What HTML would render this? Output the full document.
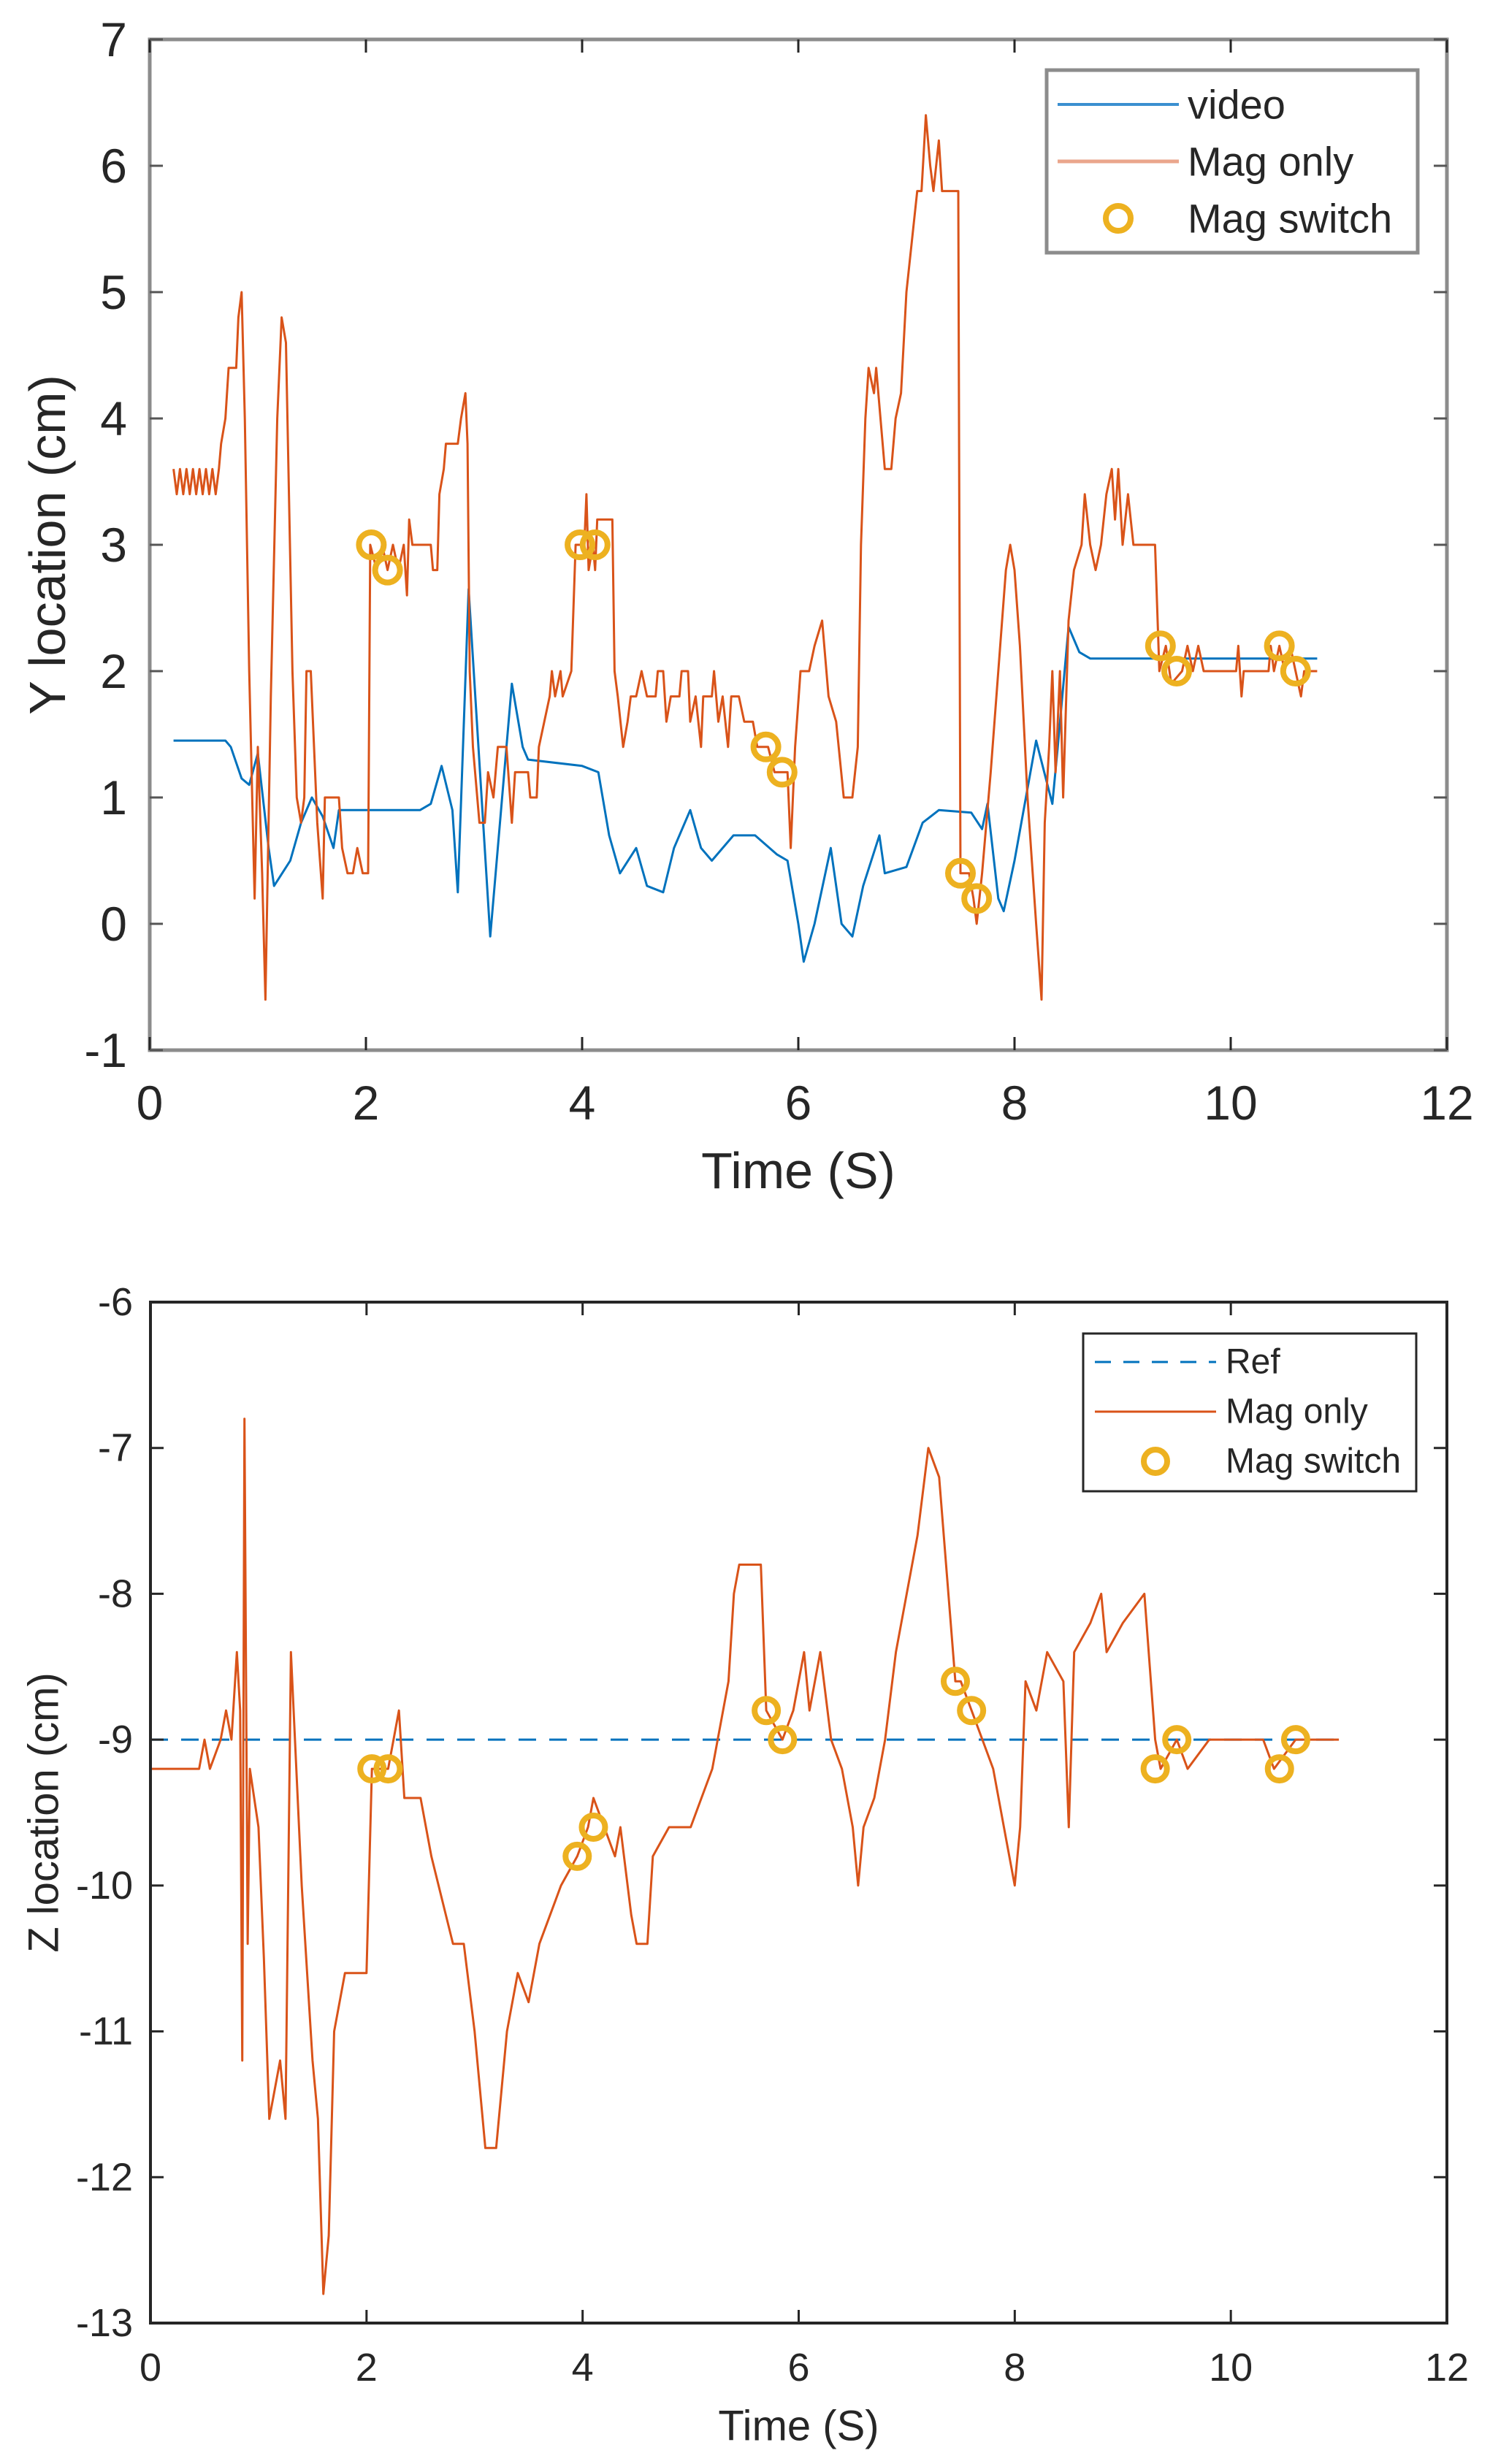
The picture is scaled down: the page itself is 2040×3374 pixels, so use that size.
<!DOCTYPE html>
<html><head><meta charset="utf-8"><style>
html,body{margin:0;padding:0;background:#fff}
svg{display:block}
text{font-family:"Liberation Sans",Arial,sans-serif;fill:#262626}
</style></head><body>
<svg id="fig" width="2040" height="3374" viewBox="0 0 2040 3374" xmlns="http://www.w3.org/2000/svg">
<g id="top"></g>
<g id="bot"></g>
</svg>
<script>
// ---- top chart data ----
const topXTicks=[0,2,4,6,8,10,12];
const topYTicks=[-1,0,1,2,3,4,5,6,7];
const topMagT=[0.22,0.25,0.28,0.31,0.34,0.37,0.40,0.43,0.46,0.49,0.52,0.55,0.58,0.61,0.64,0.66,0.70,0.73,0.80,0.82,0.85,0.88,0.92,0.97,1.0,1.04,1.07,1.12,1.18,1.22,1.26,1.32,1.36,1.40,1.43,1.45,1.49,1.55,1.6,1.62,1.75,1.78,1.83,1.88,1.92,1.97,2.02,2.04,2.1,2.15,2.2,2.25,2.3,2.35,2.38,2.4,2.43,2.6,2.62,2.66,2.68,2.72,2.74,2.85,2.88,2.92,2.94,2.96,2.99,3.05,3.1,3.13,3.18,3.22,3.3,3.35,3.38,3.5,3.52,3.58,3.6,3.65,3.7,3.72,3.75,3.8,3.82,3.9,3.94,4.02,4.04,4.06,4.1,4.12,4.14,4.28,4.3,4.33,4.38,4.42,4.45,4.5,4.55,4.6,4.68,4.7,4.75,4.78,4.82,4.9,4.92,4.98,5.0,5.05,5.1,5.12,5.2,5.22,5.26,5.3,5.35,5.38,5.45,5.5,5.58,5.62,5.72,5.78,5.9,5.93,5.97,6.02,6.1,6.15,6.22,6.28,6.35,6.42,6.5,6.55,6.58,6.62,6.65,6.7,6.72,6.76,6.8,6.86,6.9,6.95,7.0,7.05,7.1,7.14,7.18,7.22,7.25,7.3,7.33,7.48,7.5,7.58,7.62,7.65,7.7,7.78,7.85,7.92,7.96,8.0,8.05,8.12,8.2,8.25,8.28,8.32,8.35,8.38,8.42,8.45,8.5,8.55,8.62,8.65,8.7,8.75,8.8,8.85,8.9,8.93,8.96,9.0,9.05,9.1,9.3,9.34,9.4,9.45,9.55,9.6,9.65,9.7,9.75,10.05,10.07,10.1,10.12,10.35,10.37,10.4,10.45,10.5,10.55,10.6,10.65,10.68,10.8];
const topMagV=[3.6,3.4,3.6,3.4,3.6,3.4,3.6,3.4,3.6,3.4,3.6,3.4,3.6,3.4,3.6,3.8,4.0,4.4,4.4,4.8,5.0,4.0,2.0,0.2,1.4,0.4,-0.6,1.8,4.0,4.8,4.6,2.0,1.0,0.8,1.0,2.0,2.0,0.8,0.2,1.0,1.0,0.6,0.4,0.4,0.6,0.4,0.4,3.0,2.8,3.0,2.8,3.0,2.8,3.0,2.6,3.2,3.0,3.0,2.8,2.8,3.4,3.6,3.8,3.8,4.0,4.2,3.8,2.0,1.4,0.8,0.8,1.2,1.0,1.4,1.4,0.8,1.2,1.2,1.0,1.0,1.4,1.6,1.8,2.0,1.8,2.0,1.8,2.0,3.0,3.0,3.4,2.8,3.0,2.8,3.2,3.2,2.0,1.8,1.4,1.6,1.8,1.8,2.0,1.8,1.8,2.0,2.0,1.6,1.8,1.8,2.0,2.0,1.6,1.8,1.4,1.8,1.8,2.0,1.6,1.8,1.4,1.8,1.8,1.6,1.6,1.4,1.4,1.2,1.2,0.6,1.4,2.0,2.0,2.2,2.4,1.8,1.6,1.0,1.0,1.4,3.0,4.0,4.4,4.2,4.4,4.0,3.6,3.6,4.0,4.2,5.0,5.4,5.8,5.8,6.4,6.0,5.8,6.2,5.8,5.8,0.4,0.4,0.2,0.0,0.4,1.2,2.0,2.8,3.0,2.8,2.2,1.0,0.0,-0.6,0.8,1.4,2.0,1.2,2.0,1.0,2.4,2.8,3.0,3.4,3.0,2.8,3.0,3.4,3.6,3.2,3.6,3.0,3.4,3.0,3.0,2.0,2.2,1.9,2.0,2.2,2.0,2.2,2.0,2.0,2.2,1.8,2.0,2.0,2.2,2.0,2.2,2.0,2.2,2.0,1.8,2.0,2.0];
const topVidT=[0.22,0.7,0.75,0.85,0.92,1.0,1.1,1.15,1.3,1.4,1.5,1.6,1.7,1.75,2.5,2.6,2.7,2.8,2.85,2.95,3.15,3.35,3.45,3.5,4.0,4.15,4.25,4.35,4.5,4.6,4.75,4.85,5.0,5.1,5.2,5.4,5.6,5.8,5.9,6.0,6.05,6.15,6.3,6.4,6.5,6.6,6.75,6.8,7.0,7.15,7.3,7.6,7.7,7.75,7.85,7.9,8.0,8.2,8.35,8.4,8.5,8.6,8.7,9.0,10.8];
const topVidV=[1.45,1.45,1.4,1.15,1.1,1.35,0.6,0.3,0.5,0.8,1.0,0.85,0.6,0.9,0.9,0.95,1.25,0.9,0.25,2.65,-0.1,1.9,1.4,1.3,1.25,1.2,0.7,0.4,0.6,0.3,0.25,0.6,0.9,0.6,0.5,0.7,0.7,0.55,0.5,0.0,-0.3,0.0,0.6,0.0,-0.1,0.3,0.7,0.4,0.45,0.8,0.9,0.88,0.75,0.95,0.2,0.1,0.5,1.45,0.95,1.4,2.35,2.15,2.1,2.1,2.1];
const topSwT=[2.05,2.2,3.98,4.12,5.7,5.85,7.5,7.65,9.35,9.5,10.45,10.6];
const topSwV=[3.0,2.8,3.0,3.0,1.4,1.2,0.4,0.2,2.2,2.0,2.2,2.0];
// ---- bottom chart data ----
const botXTicks=[0,2,4,6,8,10,12];
const botYTicks=[-13,-12,-11,-10,-9,-8,-7,-6];
const refT=[0,11];
const refV=[-9,-9];
const botMagT=[0,0.45,0.5,0.55,0.65,0.7,0.75,0.8,0.83,0.85,0.87,0.9,0.92,1.0,1.05,1.1,1.2,1.25,1.3,1.4,1.5,1.55,1.6,1.65,1.7,1.8,2.0,2.05,2.2,2.3,2.35,2.5,2.6,2.8,2.9,3.0,3.1,3.2,3.3,3.4,3.5,3.6,3.7,3.8,3.95,4.05,4.1,4.2,4.3,4.35,4.45,4.5,4.6,4.65,4.8,5.0,5.1,5.2,5.25,5.35,5.4,5.45,5.65,5.7,5.85,5.95,6.0,6.05,6.1,6.2,6.3,6.4,6.5,6.55,6.6,6.7,6.8,6.9,7.0,7.1,7.2,7.3,7.45,7.5,7.6,7.7,7.8,7.9,8.0,8.05,8.1,8.2,8.3,8.45,8.5,8.55,8.7,8.8,8.85,9.0,9.2,9.3,9.35,9.5,9.6,9.8,10.3,10.4,10.6,11.0];
const botMagV=[-9.2,-9.2,-9.0,-9.2,-9.0,-8.8,-9.0,-8.4,-8.8,-11.2,-6.8,-10.4,-9.2,-9.6,-10.5,-11.6,-11.2,-11.6,-8.4,-10.0,-11.2,-11.6,-12.8,-12.4,-11.0,-10.6,-10.6,-9.2,-9.2,-8.8,-9.4,-9.4,-9.8,-10.4,-10.4,-11.0,-11.8,-11.8,-11.0,-10.6,-10.8,-10.4,-10.2,-10.0,-9.8,-9.6,-9.4,-9.6,-9.8,-9.6,-10.2,-10.4,-10.4,-9.8,-9.6,-9.6,-9.4,-9.2,-9.0,-8.6,-8.0,-7.8,-7.8,-8.8,-9.0,-8.8,-8.6,-8.4,-8.8,-8.4,-9.0,-9.2,-9.6,-10.0,-9.6,-9.4,-9.0,-8.4,-8.0,-7.6,-7.0,-7.2,-8.6,-8.6,-8.8,-9.0,-9.2,-9.6,-10.0,-9.6,-8.6,-8.8,-8.4,-8.6,-9.6,-8.4,-8.2,-8.0,-8.4,-8.2,-8.0,-9.0,-9.2,-9.0,-9.2,-9.0,-9.0,-9.2,-9.0,-9.0];
const botSwT=[2.05,2.2,3.95,4.1,5.7,5.85,7.45,7.6,9.3,9.5,10.45,10.6];
const botSwV=[-9.2,-9.2,-9.8,-9.6,-8.8,-9.0,-8.6,-8.8,-9.2,-9.0,-9.2,-9.0];

const NS="http://www.w3.org/2000/svg";
function mk(parent,tag,attrs,txt){const e=document.createElementNS(NS,tag);for(const k in attrs)e.setAttribute(k,attrs[k]);if(txt!==undefined)e.textContent=txt;parent.appendChild(e);return e;}
function pathD(T,V,sx,sy){return T.map((t,i)=>(i?'L':'M')+sx(t).toFixed(1)+' '+sy(V[i]).toFixed(1)).join(' ');}

function drawChart(g,cfg){
  const sx=t=>cfg.L+(t-cfg.x0)/(cfg.x1-cfg.x0)*(cfg.R-cfg.L);
  const sy=v=>cfg.B-(v-cfg.y0)/(cfg.y1-cfg.y0)*(cfg.B-cfg.T);
  cfg.series.forEach(s=>{
    const p=mk(g,'path',{d:pathD(s.T,s.V,sx,sy),fill:'none',stroke:s.color,'stroke-width':s.w,'stroke-linejoin':'round'});
    if(s.dash)p.setAttribute('stroke-dasharray',s.dash);
    
    
  });
  cfg.sw.T.forEach((t,i)=>{
    const c=mk(g,'circle',{cx:sx(t),cy:sy(cfg.sw.V[i]),r:cfg.mr,fill:'none',stroke:'#edb120','stroke-width':cfg.mw});
    
    
  });
  const box=mk(g,'rect',{x:cfg.L,y:cfg.T,width:cfg.R-cfg.L,height:cfg.B-cfg.T,fill:'none',stroke:cfg.axc,'stroke-width':cfg.aw});
  
  
  cfg.xt.forEach(t=>{
    mk(g,'line',{x1:sx(t),x2:sx(t),y1:cfg.B,y2:cfg.B-18,stroke:'#262626','stroke-width':3});
    mk(g,'line',{x1:sx(t),x2:sx(t),y1:cfg.T,y2:cfg.T+18,stroke:'#262626','stroke-width':3});
    const tx=mk(g,'text',{x:sx(t),y:cfg.xly,'text-anchor':'middle','font-size':cfg.fs,'dominant-baseline':'central'},String(t));
    
    
  });
  cfg.yt.forEach(v=>{
    mk(g,'line',{x1:cfg.L,x2:cfg.L+18,y1:sy(v),y2:sy(v),stroke:cfg.tkc,'stroke-width':3});
    mk(g,'line',{x1:cfg.R,x2:cfg.R-18,y1:sy(v),y2:sy(v),stroke:cfg.tkc,'stroke-width':3});
    const tx=mk(g,'text',{x:cfg.ylx,y:sy(v),'text-anchor':'end','font-size':cfg.fs,'dominant-baseline':'central'},String(v));
    
    
  });
  const xt=mk(g,'text',{x:(cfg.L+cfg.R)/2,y:cfg.xty,'text-anchor':'middle','font-size':cfg.tfs,'dominant-baseline':'central'},'Time (S)');
  
  
  const yc=(cfg.T+cfg.B)/2;
  const yt=mk(g,'text',{x:cfg.ytx,y:yc,'text-anchor':'middle','font-size':cfg.tfs,'dominant-baseline':'central',transform:`rotate(-90 ${cfg.ytx} ${yc})`},cfg.ytitle);
  
  
  const lg=mk(g,'g',{});
  
  
  const Lc=cfg.leg;
  mk(lg,'rect',{x:Lc.x,y:Lc.y,width:Lc.w,height:Lc.h,fill:'#fff',stroke:cfg.lgc,'stroke-width':cfg.lgw});
  Lc.items.forEach((it,i)=>{
    const y=Lc.rows[i];
    const e=mk(lg,'g',{});
    
    
    if(it.type==='line'){const l=mk(e,'line',{x1:Lc.lx0,x2:Lc.lx1,y1:y,y2:y,stroke:it.color,'stroke-width':it.w});if(it.dash)l.setAttribute('stroke-dasharray',it.dash);}
    else mk(e,'circle',{cx:(Lc.lx0+Lc.lx1)/2,cy:y,r:cfg.mr,fill:'none',stroke:'#edb120','stroke-width':cfg.mw});
    mk(e,'text',{x:Lc.tx,y:y,'font-size':Lc.fs,'dominant-baseline':'central'},it.label);
  });
}

drawChart(document.getElementById('top'),{
  L:205,R:1981,T:54,B:1438,x0:0,x1:12,y0:-1,y1:7,
  xt:topXTicks,yt:topYTicks,fs:66,tfs:70,xly:1510,ylx:174,xty:1603,ytx:65,ytitle:'Y location (cm)',
  axc:'#8c8c8c',aw:5,tkc:'#555',mr:17,mw:8,lgc:'#8c8c8c',lgw:5,
  series:[
    {T:topVidT,V:topVidV,color:'#0072bd',w:3,name:'video-line'},
    {T:topMagT,V:topMagV,color:'#d95319',w:3,name:'mag-only-line'}],
  sw:{T:topSwT,V:topSwV},
  leg:{x:1433,y:96,w:508,h:250,rows:[143,221,299],lx0:1448,lx1:1614,tx:1626,fs:56,
    items:[{type:'line',color:'#3b8fd0',w:4,label:'video'},{type:'line',color:'#eaa68c',w:5,label:'Mag only'},{type:'marker',label:'Mag switch'}]}
});
drawChart(document.getElementById('bot'),{
  L:206,R:1981,T:1783,B:3181,x0:0,x1:12,y0:-13,y1:-6,
  xt:botXTicks,yt:botYTicks,fs:54,tfs:58,xly:3242,ylx:182,xty:3322,ytx:60,ytitle:'Z location (cm)',
  axc:'#262626',aw:4,tkc:'#262626',mr:16,mw:8,lgc:'#262626',lgw:3,
  series:[
    {T:refT,V:refV,color:'#0072bd',w:3,dash:'24 18',name:'ref-line'},
    {T:botMagT,V:botMagV,color:'#d95319',w:3,name:'mag-only-line'}],
  sw:{T:botSwT,V:botSwV},
  leg:{x:1483,y:1826,w:456,h:216,rows:[1865,1933,2001],lx0:1499,lx1:1665,tx:1678,fs:48,
    items:[{type:'line',color:'#0072bd',w:3,dash:'22 17',label:'Ref'},{type:'line',color:'#d95319',w:3,label:'Mag only'},{type:'marker',label:'Mag switch'}]}
});
</script>
</body></html>
